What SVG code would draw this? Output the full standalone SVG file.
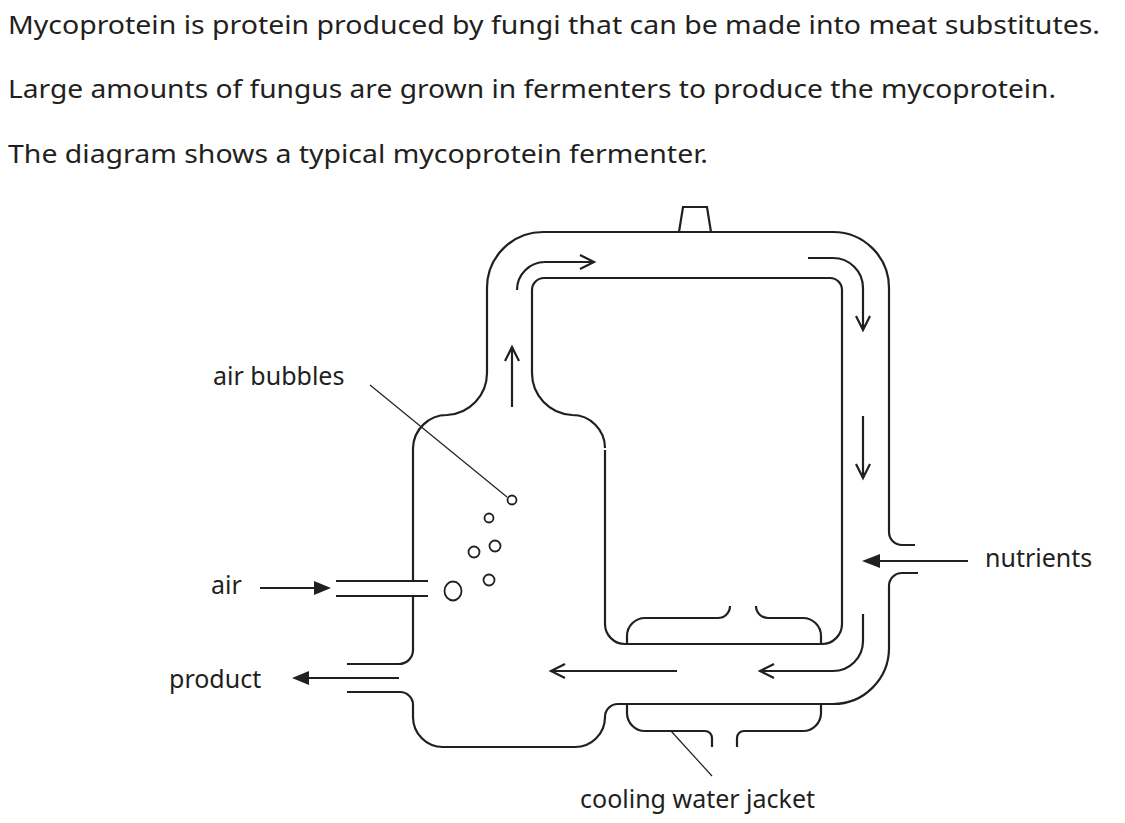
<svg xmlns="http://www.w3.org/2000/svg" width="1125" height="823" viewBox="0 0 1125 823">
<defs>
<style>
text{font-family:"Noto Sans","Open Sans",sans-serif;font-size:25px;fill:#231f20}
.s{fill:none;stroke:#231f20;stroke-width:2.2}
.t{fill:none;stroke:#231f20;stroke-width:1.2}
.f{fill:#231f20}
</style>
</defs>
<rect width="1125" height="823" fill="#fff"/>
<g id="intro">
<text x="8" y="34" textLength="1092" lengthAdjust="spacingAndGlyphs">Mycoprotein is protein produced by fungi that can be made into meat substitutes.</text>
<text x="8" y="98" textLength="1048" lengthAdjust="spacingAndGlyphs">Large amounts of fungus are grown in fermenters to produce the mycoprotein.</text>
<text x="8" y="163" textLength="700" lengthAdjust="spacingAndGlyphs">The diagram shows a typical mycoprotein fermenter.</text>
</g>
<g id="fermenter">
<path class="s" d="M679,232 L683,207 L707,207 L711,232"/>
<path class="s" d="M413,581 L413,448 A34,34 0 0 1 447,415 A42,42 0 0 0 487,373 L487,288 A56,56 0 0 1 543,232 L833,232 A56,56 0 0 1 889,288 L889,532 A13,13 0 0 0 902,545 L915,545"/>
<path class="s" d="M918,573 L902,573 A13,13 0 0 0 889,586 L889,648 A56,56 0 0 1 833,704 L618,704 A13,13 0 0 0 605,717 L605,717 A30,30 0 0 1 575,747 L443,747 A30,30 0 0 1 413,717 L413,705 A13,13 0 0 0 400,692 L347,692"/>
<path class="s" d="M413,596 L413,650 A14,14 0 0 1 399,664 L347,664"/>
<path class="s" d="M336,581 L428,581 M336,596 L428,596"/>
<path class="s" d="M605,450 L605,624 A20,20 0 0 0 625,644 L822,644 A20,20 0 0 0 842,624 L842,290 A12,12 0 0 0 830,278 L544,278 A12,12 0 0 0 532,290 L532,373 A42,42 0 0 0 572,415 A33,33 0 0 1 605,448"/>
<path class="s" d="M627,644 L627,636 A18,18 0 0 1 645,618 L718,618 A12,12 0 0 0 730,606 M756,606 A12,12 0 0 0 768,618 L803,618 A18,18 0 0 1 821,636 L821,644"/>
<path class="s" d="M627,704 L627,713 A18,18 0 0 0 645,731 L705,731 A7,7 0 0 1 712,738 L712,747 M737,747 L737,738 A7,7 0 0 1 744,731 L803,731 A18,18 0 0 0 821,713 L821,704"/>
</g>
<g id="bubbles" class="s" style="stroke-width:1.8">
<circle cx="512" cy="500" r="4.5"/>
<circle cx="489" cy="518" r="4.5"/>
<circle cx="474" cy="552" r="5.5"/>
<circle cx="495" cy="546" r="5.5"/>
<circle cx="489" cy="580" r="5.5"/>
<ellipse cx="453" cy="591" rx="8.5" ry="9.5"/>
</g>
<g id="connectors">
<path class="s" d="M512,407 L512,347 M505,361 L512,347 L519,361"/>
<path class="s" d="M517,290 A28,28 0 0 1 545,262 L594,262 M580,255 L594,262 L580,269"/>
<path class="s" d="M808,258 L833,258 A30,30 0 0 1 863,288 L863,330 M856,316 L863,330 L870,316"/>
<path class="s" d="M863,416 L863,478 M856,464 L863,478 L870,464"/>
<path class="s" d="M863,614 L863,641 A30,30 0 0 1 833,671 L760,671 M774,664 L760,671 L774,678"/>
<path class="s" d="M677,671 L551,671 M565,664 L551,671 L565,678"/>
<path class="s" d="M260,588 L318,588"/><path class="f" d="M314,581 L331,588 L314,595 Z"/>
<path class="s" d="M399,678 L305,678"/><path class="f" d="M309,671 L292,678 L309,685 Z"/>
<path class="s" d="M968,561 L878,561"/><path class="f" d="M880,554 L862,561 L880,568 Z"/>
<path class="t" d="M370,385 L507,497"/>
<path class="t" d="M671,731 L712,776"/>
</g>
<g id="labels">
<text x="213" y="385">air bubbles</text>
<text x="211" y="594">air</text>
<text x="169" y="688">product</text>
<text x="985" y="567">nutrients</text>
<text x="580" y="808">cooling water jacket</text>
</g>
</svg>
